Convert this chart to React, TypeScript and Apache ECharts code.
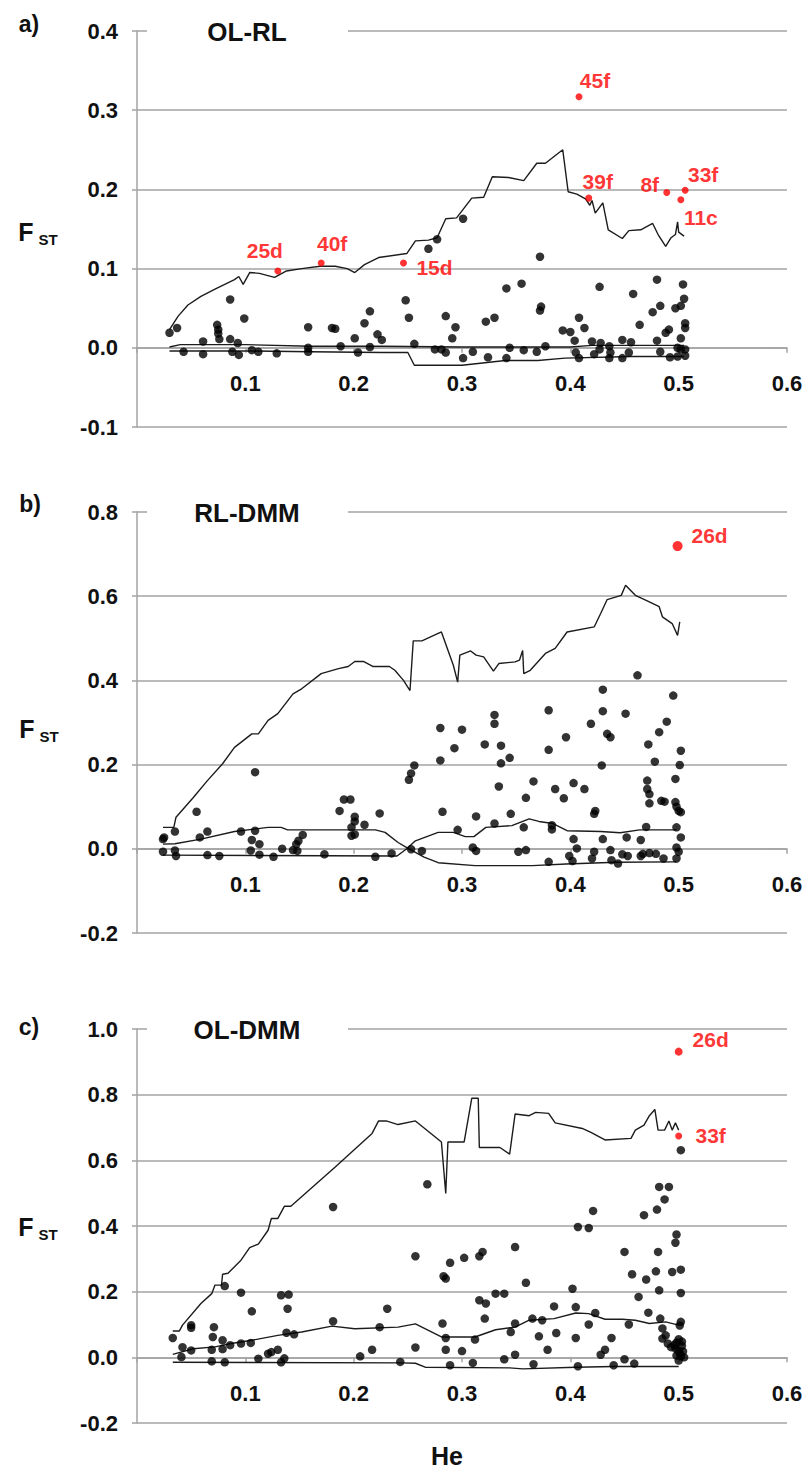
import React, { useEffect, useRef } from "react";
import * as echarts from "echarts";

type P = [number, number];

// ---------- Panel a) OL-RL ----------
const olRlPoints: P[] = [
  [0.030,0.019],[0.037,0.025],[0.043,-0.005],[0.061,0.008],[0.061,-0.008],[0.074,0.029],[0.075,0.023],[0.075,0.018],
  [0.076,0.011],[0.086,0.061],[0.086,0.011],[0.088,-0.005],[0.093,0.006],[0.094,-0.009],[0.099,0.037],[0.106,-0.003],
  [0.112,-0.005],[0.129,-0.007],[0.158,0.026],[0.158,0.000],[0.158,-0.005],[0.180,0.025],[0.183,0.024],[0.188,0.002],
  [0.201,0.012],[0.204,-0.006],[0.210,0.031],[0.215,0.046],[0.215,0.001],[0.222,0.017],[0.226,0.010],
  [0.248,0.060],[0.251,0.038],[0.256,0.005],[0.269,0.125],[0.277,0.137],[0.275,-0.002],[0.281,-0.002],[0.285,0.040],
  [0.285,-0.006],[0.291,0.012],[0.294,0.026],[0.301,0.163],[0.301,-0.013],[0.310,-0.005],[0.322,0.033],[0.330,0.038],
  [0.324,-0.012],[0.341,0.075],[0.341,-0.013],[0.344,0.000],[0.355,0.081],[0.357,-0.003],[0.369,-0.005],[0.372,0.115],
  [0.373,0.052],[0.372,0.047],[0.377,0.002],[0.393,0.022],[0.400,0.020],[0.404,0.009],[0.405,-0.006],[0.408,-0.013],
  [0.408,0.038],[0.413,0.025],[0.420,0.008],[0.422,-0.008],[0.427,0.077],[0.428,0.006],[0.427,-0.002],[0.436,0.002],
  [0.436,-0.013],[0.437,-0.006],[0.448,0.010],[0.448,-0.013],[0.456,0.007],[0.454,-0.006],[0.458,0.068],[0.464,0.029],
  [0.476,0.045],[0.480,0.086],[0.483,0.053],[0.480,0.009],[0.483,-0.005],[0.488,0.019],[0.491,0.023],[0.492,-0.012],
  [0.497,0.050],[0.502,0.053],[0.504,0.080],[0.505,0.062],[0.506,0.031],[0.506,0.025],[0.502,0.012],[0.499,0.000],
  [0.502,-0.002],[0.506,-0.002],[0.499,-0.011],[0.506,-0.010],
];
const olRlOutlierNames = ["25d", "40f", "15d", "45f", "39f", "8f", "33f", "11c"];
const olRlOutliers: P[] = [
  [0.130,0.097],[0.170,0.107],[0.246,0.107],[0.408,0.317],[0.417,0.189],[0.489,0.196],[0.506,0.199],[0.502,0.187],
];
const olRlUpper: P[] = [
  [0.030,0.023],[0.038,0.040],[0.047,0.054],[0.059,0.065],[0.072,0.074],[0.090,0.086],[0.094,0.090],[0.098,0.080],
  [0.104,0.095],[0.113,0.094],[0.127,0.089],[0.138,0.097],[0.152,0.100],[0.169,0.103],[0.183,0.103],[0.194,0.100],
  [0.201,0.095],[0.210,0.105],[0.223,0.114],[0.249,0.119],[0.257,0.135],[0.269,0.136],[0.277,0.139],[0.285,0.163],
  [0.295,0.164],[0.309,0.189],[0.320,0.190],[0.328,0.216],[0.343,0.215],[0.357,0.211],[0.369,0.233],[0.377,0.233],
  [0.393,0.250],[0.398,0.197],[0.406,0.194],[0.414,0.188],[0.418,0.180],[0.420,0.186],[0.423,0.170],[0.430,0.183],
  [0.435,0.149],[0.448,0.138],[0.454,0.148],[0.465,0.149],[0.476,0.157],[0.481,0.143],[0.488,0.128],[0.493,0.139],
  [0.497,0.143],[0.499,0.159],[0.500,0.146],[0.505,0.141],
];
const olRlMid: P[] = [
  [0.030,0.001],[0.040,0.004],[0.100,0.004],[0.160,0.002],[0.226,0.002],[0.300,0.001],[0.400,0.001],[0.420,0.003],[0.505,0.003],
];
const olRlLower: P[] = [
  [0.030,-0.004],[0.100,-0.004],[0.160,-0.005],[0.226,-0.006],[0.250,-0.006],[0.256,-0.022],[0.300,-0.022],
  [0.340,-0.016],[0.370,-0.016],[0.395,-0.013],[0.457,-0.011],[0.505,-0.011],
];

// ---------- Panel b) RL-DMM ----------
const rlDmmPoints: P[] = [
  [0.024,0.023],[0.025,0.027],[0.024,-0.007],[0.035,0.041],[0.035,-0.004],[0.036,-0.017],[0.055,0.088],[0.058,0.027],
  [0.065,0.041],[0.065,-0.015],[0.076,-0.017],[0.096,0.041],[0.106,0.021],[0.105,-0.004],[0.109,0.182],[0.109,0.043],
  [0.113,0.011],[0.113,-0.014],[0.126,-0.019],[0.134,0.000],[0.144,-0.003],[0.147,0.011],[0.148,-0.005],[0.149,0.019],
  [0.153,0.033],[0.173,-0.013],[0.187,0.090],[0.191,0.117],[0.197,0.117],[0.198,0.051],[0.201,0.076],[0.201,0.065],
  [0.198,0.031],[0.201,0.034],[0.210,0.057],[0.224,0.084],[0.220,-0.019],[0.235,-0.011],
  [0.251,0.164],[0.253,0.179],[0.256,0.198],[0.253,-0.001],[0.263,-0.005],[0.280,0.287],[0.280,0.210],[0.282,0.088],
  [0.293,0.239],[0.296,0.045],[0.300,0.283],[0.310,0.003],[0.313,0.077],[0.313,-0.005],[0.321,0.248],[0.330,0.318],
  [0.330,0.297],[0.330,0.060],[0.334,0.148],[0.336,0.245],[0.336,0.203],[0.344,0.216],[0.345,0.083],[0.352,-0.007],
  [0.359,-0.003],[0.359,0.121],[0.357,0.051],[0.366,0.160],[0.380,0.329],[0.380,0.235],[0.380,-0.031],[0.383,0.056],
  [0.383,0.046],[0.386,0.142],[0.394,0.120],[0.396,0.265],[0.399,-0.017],[0.402,-0.029],[0.403,0.156],[0.403,0.023],
  [0.406,0.001],[0.413,0.142],[0.419,0.297],[0.420,-0.023],[0.422,-0.007],[0.422,0.083],[0.423,0.090],[0.429,0.198],
  [0.430,0.378],[0.430,0.327],[0.430,0.023],[0.434,0.273],[0.437,0.265],[0.437,-0.003],[0.438,-0.027],[0.444,-0.035],
  [0.448,-0.013],[0.452,0.027],[0.453,-0.017],[0.451,0.321],[0.462,0.412],[0.465,0.021],[0.465,-0.017],[0.467,-0.012],
  [0.470,0.052],[0.472,0.248],[0.471,0.162],[0.471,0.142],[0.473,0.130],[0.473,0.108],[0.473,-0.010],[0.479,-0.012],
  [0.478,0.207],[0.482,0.277],[0.484,0.114],[0.487,0.112],[0.486,-0.023],[0.489,0.302],[0.495,0.364],[0.497,0.166],
  [0.497,0.111],[0.498,0.100],[0.500,0.090],[0.502,0.233],[0.501,0.199],[0.502,0.087],[0.498,0.051],[0.502,0.027],
  [0.498,0.003],[0.500,-0.007],[0.498,-0.023],
];
const rlDmmOutlierNames = ["26d"];
const rlDmmOutliers: P[] = [[0.499,0.719]];
const rlDmmUpper: P[] = [
  [0.024,0.051],[0.034,0.051],[0.036,0.075],[0.052,0.122],[0.065,0.162],[0.079,0.202],[0.090,0.241],[0.106,0.273],
  [0.112,0.273],[0.121,0.305],[0.130,0.321],[0.144,0.368],[0.152,0.380],[0.170,0.416],[0.186,0.428],[0.195,0.433],
  [0.201,0.445],[0.209,0.445],[0.218,0.433],[0.233,0.433],[0.238,0.424],[0.246,0.400],[0.252,0.376],[0.255,0.494],
  [0.263,0.494],[0.281,0.515],[0.292,0.436],[0.296,0.396],[0.298,0.460],[0.308,0.470],[0.313,0.460],[0.320,0.456],
  [0.329,0.422],[0.334,0.440],[0.349,0.444],[0.353,0.448],[0.356,0.471],[0.357,0.416],[0.363,0.424],[0.377,0.464],
  [0.386,0.476],[0.397,0.515],[0.422,0.527],[0.428,0.559],[0.434,0.592],[0.447,0.602],[0.451,0.626],[0.460,0.602],
  [0.470,0.590],[0.482,0.575],[0.485,0.551],[0.494,0.535],[0.499,0.507],[0.501,0.539],
];
const rlDmmMid: P[] = [
  [0.024,0.011],[0.035,0.012],[0.059,0.023],[0.090,0.041],[0.121,0.051],[0.133,0.051],[0.139,0.045],[0.220,0.045],
  [0.229,0.039],[0.241,0.015],[0.249,0.003],[0.265,-0.020],[0.278,-0.033],[0.312,-0.040],[0.365,-0.040],
  [0.396,-0.036],[0.442,-0.032],[0.498,-0.031],
];
const rlDmmLower: P[] = [
  [0.024,-0.015],[0.240,-0.017],[0.249,0.000],[0.257,0.019],[0.278,0.039],[0.292,0.039],[0.303,0.029],[0.311,0.029],
  [0.322,0.051],[0.346,0.055],[0.362,0.071],[0.371,0.065],[0.384,0.060],[0.397,0.043],[0.428,0.041],[0.446,0.038],
  [0.464,0.045],[0.498,0.045],
];

// ---------- Panel c) OL-DMM ----------
const olDmmPoints: P[] = [
  [0.033,0.059],[0.042,0.031],[0.041,0.001],[0.050,0.098],[0.050,0.090],[0.050,0.021],[0.069,0.023],[0.069,-0.012],
  [0.071,0.092],[0.070,0.062],[0.079,0.052],[0.079,0.025],[0.081,0.217],[0.081,-0.015],[0.086,0.037],[0.096,0.042],
  [0.096,0.197],[0.106,0.140],[0.105,0.044],[0.112,-0.004],[0.121,0.011],[0.124,0.016],[0.130,0.023],[0.133,0.189],
  [0.140,0.191],[0.139,0.148],[0.138,0.075],[0.145,0.070],[0.133,-0.015],[0.136,-0.003],[0.181,0.458],[0.181,0.110],
  [0.206,0.003],[0.217,0.023],[0.224,0.092],[0.231,0.148],[0.243,-0.014],
  [0.257,0.030],[0.257,0.308],[0.268,0.527],[0.282,0.103],[0.283,0.247],[0.285,0.240],[0.285,0.059],[0.285,0.023],
  [0.289,0.288],[0.289,-0.024],[0.300,0.019],[0.302,0.303],[0.310,-0.017],[0.312,0.054],[0.316,0.308],[0.319,0.321],
  [0.316,0.174],[0.321,0.118],[0.322,0.164],[0.331,0.194],[0.339,0.194],[0.339,-0.006],[0.345,0.077],[0.349,0.103],
  [0.349,0.008],[0.349,0.336],[0.359,0.227],[0.365,0.118],[0.366,-0.021],[0.371,0.064],[0.374,0.113],[0.379,0.023],
  [0.385,0.155],[0.387,0.074],[0.402,0.209],[0.405,0.153],[0.405,0.059],[0.407,-0.027],[0.407,0.397],[0.417,0.394],
  [0.417,0.100],[0.421,0.446],[0.423,0.135],[0.428,0.008],[0.432,0.023],[0.438,0.059],[0.440,-0.024],[0.450,0.321],
  [0.450,-0.006],[0.454,0.100],[0.457,0.253],[0.459,-0.019],[0.463,0.184],[0.468,0.433],[0.470,0.237],[0.472,0.136],
  [0.480,0.450],[0.479,0.262],[0.481,0.321],[0.482,0.204],[0.482,0.519],[0.487,0.481],[0.491,0.519],[0.483,0.118],
  [0.485,0.088],[0.485,0.057],[0.488,0.067],[0.490,0.042],[0.493,0.031],[0.494,0.260],[0.498,0.374],[0.497,0.349],
  [0.502,0.267],[0.502,0.196],[0.502,0.108],[0.501,0.097],[0.502,0.631],[0.497,0.027],[0.500,0.020],[0.504,0.018],
  [0.498,0.005],[0.502,0.003],[0.500,-0.010],[0.503,0.035],[0.498,0.045],[0.500,0.055],[0.503,0.048],[0.496,0.038],
  [0.501,0.012],[0.505,0.000],
];
const olDmmOutlierNames = ["26d", "33f"];
const olDmmOutliers: P[] = [[0.500,0.931],[0.500,0.674]];
const olDmmUpper: P[] = [
  [0.033,0.080],[0.039,0.080],[0.042,0.098],[0.059,0.164],[0.069,0.194],[0.072,0.220],[0.078,0.220],[0.079,0.253],
  [0.084,0.256],[0.096,0.296],[0.104,0.334],[0.112,0.345],[0.121,0.387],[0.124,0.423],[0.130,0.423],[0.136,0.460],
  [0.142,0.460],[0.183,0.580],[0.217,0.682],[0.223,0.720],[0.230,0.720],[0.241,0.709],[0.257,0.720],[0.281,0.656],
  [0.285,0.499],[0.287,0.656],[0.302,0.656],[0.309,0.789],[0.315,0.789],[0.316,0.639],[0.335,0.639],[0.344,0.619],
  [0.349,0.741],[0.362,0.736],[0.368,0.746],[0.380,0.743],[0.386,0.714],[0.411,0.697],[0.419,0.685],[0.432,0.662],
  [0.456,0.667],[0.460,0.692],[0.468,0.707],[0.473,0.736],[0.478,0.755],[0.481,0.692],[0.487,0.692],[0.491,0.720],
  [0.494,0.692],[0.497,0.714],[0.500,0.692],
];
const olDmmMid: P[] = [
  [0.033,0.009],[0.052,0.026],[0.072,0.032],[0.087,0.042],[0.106,0.052],[0.130,0.067],[0.152,0.077],[0.180,0.095],
  [0.201,0.087],[0.241,0.092],[0.257,0.102],[0.281,0.062],[0.312,0.062],[0.331,0.084],[0.349,0.092],[0.362,0.113],
  [0.385,0.118],[0.405,0.135],[0.417,0.133],[0.432,0.116],[0.448,0.116],[0.460,0.113],[0.473,0.103],[0.488,0.108],
  [0.500,0.098],
];
const olDmmLower: P[] = [
  [0.033,-0.015],[0.244,-0.017],[0.257,-0.018],[0.266,-0.030],[0.344,-0.032],[0.356,-0.035],[0.405,-0.030],
  [0.440,-0.028],[0.500,-0.028],
];

const panelLetters = ["a)", "b)", "c)"];
const panelTitles = ["OL-RL", "RL-DMM", "OL-DMM"];
const yMins = [-0.1, -0.2, -0.2];
const yMaxs = [0.4, 0.8, 1.0];
const yIntervals = [0.1, 0.2, 0.2];
const xTicks = { min: 0, max: 0.6, interval: 0.1 };
const xAxisName = "He";

// ---------- layout / styles (not data) ----------
const FONT = '"Liberation Sans", Arial, Helvetica, sans-serif';
const GRID_LEFT = 137;
const GRID_WIDTH = 650;
const grids = [
  { top: 31, height: 396 },
  { top: 512, height: 421 },
  { top: 1029, height: 394 },
];
const letterPos = [[29, 24], [30, 504], [29, 1027]];
const fPos = [[26, 231.5], [27, 728.5], [26, 1226.5]];
const GRID_COLOR = "#a3a3a3";
const RED = "#ff0000";
const labelOffsets: Record<string, number[]> = {
  "0-25d": [-13, -20], "0-40f": [11, -20], "0-15d": [31, 4], "0-45f": [16, -16],
  "0-39f": [9, -17], "0-8f": [-17, -8], "0-33f": [18, -16], "0-11c": [20, 18],
  "1-26d": [32, -11], "2-26d": [32, -12], "2-33f": [32, -1],
};
const redSizes = [7, 10, 8];

export default function App() {
  const ref = useRef<HTMLDivElement>(null);
  useEffect(() => {
    if (!ref.current) return;
    const chart = echarts.init(ref.current, undefined, { renderer: "svg" });
    const panels = [
      { pts: olRlPoints, out: olRlOutliers, names: olRlOutlierNames, lines: [olRlUpper, olRlMid, olRlLower] },
      { pts: rlDmmPoints, out: rlDmmOutliers, names: rlDmmOutlierNames, lines: [rlDmmUpper, rlDmmMid, rlDmmLower] },
      { pts: olDmmPoints, out: olDmmOutliers, names: olDmmOutlierNames, lines: [olDmmUpper, olDmmMid, olDmmLower] },
    ];
    const series: any[] = [];
    panels.forEach((p, i) => {
      p.lines.forEach((ln) => {
        series.push({
          type: "line", xAxisIndex: i, yAxisIndex: i, data: ln, showSymbol: false,
          lineStyle: { color: "#1c1c1c", width: 1.4 }, z: 3, silent: true,
        });
      });
      series.push({
        type: "scatter", xAxisIndex: i, yAxisIndex: i, data: p.pts, symbolSize: 8.5,
        itemStyle: { color: "#000" }, z: 4,
      });
      series.push({
        type: "scatter", xAxisIndex: i, yAxisIndex: i, symbolSize: redSizes[i],
        itemStyle: { color: RED }, z: 5,
        data: p.out.map((v, k) => ({
          value: v,
          name: p.names[k],
          symbolSize: i === 2 && k === 1 ? 7 : redSizes[i],
          label: {
            show: true, formatter: p.names[k], position: "inside",
            offset: labelOffsets[`${i}-${p.names[k]}`] || [0, -14],
            color: RED, fontSize: 21, fontWeight: "bold", fontFamily: FONT,
          },
        })),
      });
    });

    const graphic: any[] = [];
    grids.forEach((g, i) => {
      graphic.push({
        type: "rect", z: 100, shape: { x: 147, y: g.top - 14, width: 201, height: 28 },
        style: { fill: "#fff" },
      });
      graphic.push({
        type: "text", z: 101, x: 247, y: g.top + 1,
        style: { text: panelTitles[i], fill: "#111", font: `bold 26px ${FONT}`, textAlign: "center", textVerticalAlign: "middle" },
      });
      graphic.push({
        type: "text", z: 101, x: letterPos[i][0], y: letterPos[i][1],
        style: { text: panelLetters[i], fill: "#111", font: `bold 23px ${FONT}`, textAlign: "center", textVerticalAlign: "middle" },
      });
      graphic.push({
        type: "text", z: 101, x: fPos[i][0], y: fPos[i][1],
        style: { text: "F", fill: "#111", font: `bold 25px ${FONT}`, textAlign: "center", textVerticalAlign: "middle" },
      });
      graphic.push({
        type: "text", z: 101, x: fPos[i][0] + 22, y: fPos[i][1] + 8,
        style: { text: "ST", fill: "#111", font: `bold 15px ${FONT}`, textAlign: "center", textVerticalAlign: "middle" },
      });
    });
    graphic.push({
      type: "text", z: 101, x: 447, y: 1456,
      style: { text: xAxisName, fill: "#111", font: `bold 25px ${FONT}`, textAlign: "center", textVerticalAlign: "middle" },
    });

    chart.setOption({
      animation: false,
      backgroundColor: "#fff",
      grid: grids.map((g) => ({ left: GRID_LEFT, width: GRID_WIDTH, top: g.top, height: g.height })),
      xAxis: grids.map((g, i) => ({
        type: "value", gridIndex: i, min: xTicks.min, max: xTicks.max, interval: xTicks.interval,
        position: "bottom",
        // place the axis on the F=0 line of its panel
        offset: -g.height * (-yMins[i]) / (yMaxs[i] - yMins[i]),
        axisLine: { show: true, onZero: false, lineStyle: { color: GRID_COLOR, width: 1.5 } },
        axisTick: { show: true, length: 5, lineStyle: { color: GRID_COLOR, width: 1.5 } },
        axisLabel: {
          formatter: (v: number) => (Math.abs(v) < 1e-9 ? "" : v.toFixed(1)),
          fontSize: 22, fontWeight: "bold", color: "#111", fontFamily: FONT, margin: 25,
        },
        splitLine: { show: false },
      })),
      yAxis: grids.map((_, i) => ({
        type: "value", gridIndex: i, min: yMins[i], max: yMaxs[i], interval: yIntervals[i],
        axisLine: { show: true, onZero: false, lineStyle: { color: GRID_COLOR, width: 1.5 } },
        axisTick: { show: true, length: 5, lineStyle: { color: GRID_COLOR, width: 1.5 } },
        axisLabel: {
          formatter: (v: number) => (Math.abs(v) < 1e-9 ? "0.0" : v.toFixed(1)),
          fontSize: 22, fontWeight: "bold", color: "#111", fontFamily: FONT, margin: 19,
        },
        splitLine: { show: true, lineStyle: { color: GRID_COLOR, width: 1.5 } },
      })),
      series,
      graphic,
    });
    return () => chart.dispose();
  }, []);
  return (
    <div
      ref={ref}
      style={{ position: "absolute", left: 0, top: 0, width: 809, height: 1471, background: "#fff" }}
    />
  );
}
